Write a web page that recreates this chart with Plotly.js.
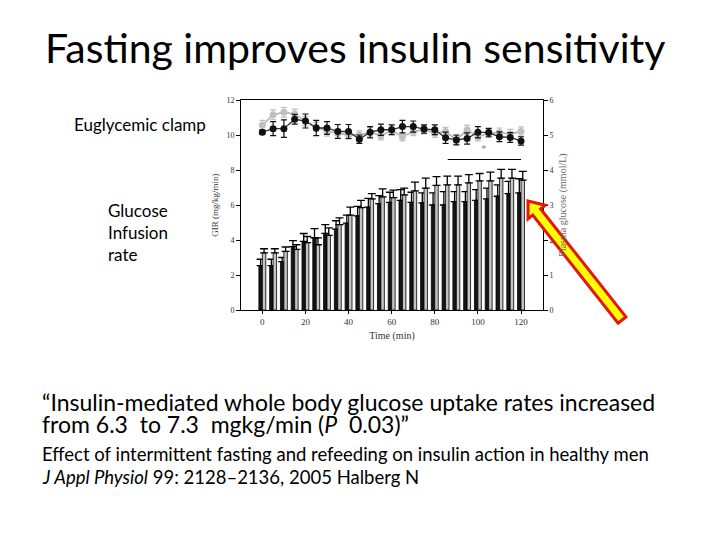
<!DOCTYPE html>
<html>
<head>
<meta charset="utf-8">
<script src="https://cdn.plot.ly/plotly-3.0.1.min.js"></script>
<style>html,body{margin:0;padding:0;background:#fff;}#chart{width:720px;height:540px;}</style>
</head>
<body>
<div id="chart"></div>
<script>
// ---- data ----
const times = [0,5,10,15,20,25,30,35,40,45,50,55,60,65,70,75,80,85,90,95,100,105,110,115,120];
const girBlack = [2.54,2.54,2.77,3.62,3.92,4.13,4.38,4.62,4.96,5.38,5.88,6.08,6.15,6.27,6.15,6.12,6.0,6.0,6.19,6.19,6.27,6.35,6.5,6.65,6.69];
const girBlackErr = [0.36,0.36,0.23,0.34,0.45,0.52,0.5,0.48,0.46,0.54,0.5,0.46,0.58,0.61,0.58,0.57,0.69,0.77,0.58,0.58,0.61,0.61,0.65,0.7,0.81];
const girGrey = [3.27,3.27,3.35,3.46,3.85,3.73,4.27,4.88,5.42,5.85,6.35,6.46,6.42,6.58,6.81,6.96,7.12,7.15,7.15,7.27,7.38,7.38,7.54,7.54,7.42];
const girGreyErr = [0.23,0.23,0.25,0.27,0.35,0.39,0.42,0.39,0.46,0.42,0.3,0.46,0.43,0.38,0.5,0.58,0.5,0.5,0.5,0.46,0.42,0.5,0.5,0.5,0.5];
const gluBlack = [5.08,5.18,5.18,5.45,5.4,5.2,5.2,5.1,5.1,4.88,5.08,5.15,5.15,5.24,5.24,5.17,5.15,4.92,4.86,4.9,5.08,5.07,4.95,4.93,4.83];
const gluBlackErr = [0.06,0.2,0.25,0.14,0.2,0.22,0.18,0.2,0.2,0.12,0.16,0.16,0.14,0.18,0.16,0.12,0.14,0.16,0.14,0.16,0.16,0.12,0.14,0.14,0.12];
const gluGrey = [5.28,5.58,5.65,5.6,5.4,5.23,5.1,5.05,5.0,5.0,5.08,4.98,5.13,4.95,5.1,5.15,5.05,5.1,4.86,5.15,4.95,5.05,5.07,5.03,5.1];
const gluGreyErr = [0.14,0.14,0.14,0.14,0.13,0.13,0.13,0.12,0.12,0.12,0.13,0.12,0.12,0.12,0.12,0.12,0.12,0.12,0.12,0.13,0.12,0.12,0.13,0.13,0.13];
const xTicks = [0,20,40,60,80,100,120];
const yTicks = [0,2,4,6,8,10,12];
const y2Ticks = [0,1,2,3,4,5,6];
const sigStart = 86, sigEnd = 120, sigLevel = 4.3, starT = 103, starY = 4.62;

// ---- layout helpers (pixel -> paper) ----
const PL=241, PR=543, PT=100, PB=310;
const W=PR-PL, H=PB-PT;
const fx = x => (x-PL)/W;
const fy = y => (PB-y)/H;

const zeros = times.map(()=>0);
const serif = 'Liberation Serif, Times New Roman, serif';
const sans = 'Lato, Carlito, Calibri, sans-serif';

const traces = [
  {type:'bar', x:times, y:girBlack, name:'GIR black', marker:{color:'#151515', line:{color:'#000', width:0.8}},
   error_y:{type:'data', array:girBlackErr, arrayminus:zeros, symmetric:false, color:'#000', thickness:1.3, width:4}},
  {type:'bar', x:times, y:girGrey, name:'GIR grey', marker:{color:'#c4c4c4', line:{color:'#000', width:0.8}},
   error_y:{type:'data', array:girGreyErr, arrayminus:zeros, symmetric:false, color:'#000', thickness:1.3, width:4}},
  {type:'scatter', mode:'lines+markers', x:times, y:gluGrey, yaxis:'y2', name:'Glucose grey',
   line:{color:'#b8b8b8', width:1.8}, marker:{color:'#c0c0c0', size:7, symbol:'circle'},
   error_y:{type:'data', array:gluGreyErr, color:'#c0c0c0', thickness:1.2, width:3}},
  {type:'scatter', mode:'lines+markers', x:times, y:gluBlack, yaxis:'y2', name:'Glucose black',
   line:{color:'#333', width:1.3}, marker:{color:'#111', size:7, symbol:'circle'},
   error_y:{type:'data', array:gluBlackErr, color:'#111', thickness:1.2, width:3}}
];

// arrow polygon
function arrowPath(){
  const T=[528,201], S=[622,320];
  const dx=T[0]-S[0], dy=T[1]-S[1], L=Math.hypot(dx,dy);
  const u=[dx/L, dy/L], n=[-u[1], u[0]];
  const hl=14, hw=11, sw=5;
  const B=[T[0]-u[0]*hl, T[1]-u[1]*hl];
  const pts=[T,
    [B[0]+n[0]*hw, B[1]+n[1]*hw],
    [B[0]+n[0]*sw, B[1]+n[1]*sw],
    [S[0]+n[0]*sw, S[1]+n[1]*sw],
    [S[0]-n[0]*sw, S[1]-n[1]*sw],
    [B[0]-n[0]*sw, B[1]-n[1]*sw],
    [B[0]-n[0]*hw, B[1]-n[1]*hw]];
  return 'M'+pts.map(p=>fx(p[0]).toFixed(4)+','+fy(p[1]).toFixed(4)).join(' L')+' Z';
}

const layout = {
  width:720, height:540,
  margin:{l:PL, r:720-PR, t:PT, b:540-PB, pad:0},
  paper_bgcolor:'#fff', plot_bgcolor:'#fff',
  showlegend:false,
  barmode:'group', bargap:0.36, bargroupgap:0,
  font:{family:serif, size:9, color:'#333'},
  xaxis:{range:[-9.9,130.2], tickvals:xTicks, ticks:'outside', ticklen:3, tickcolor:'#000',
    showline:true, linecolor:'#000', linewidth:1, mirror:true, showgrid:false, zeroline:false,
    tickfont:{family:serif, size:9, color:'#333'},
    title:{text:'Time (min)', font:{family:serif, size:10, color:'#333'}, standoff:6}},
  yaxis:{range:[0,12], tickvals:yTicks, ticks:'outside', ticklen:4, tickcolor:'#000',
    showline:true, linecolor:'#000', linewidth:1, showgrid:false, zeroline:false,
    tickfont:{family:serif, size:8, color:'#333'},
    title:{text:'GIR (mg/kg/min)', font:{family:serif, size:9, color:'#333'}, standoff:6}},
  yaxis2:{range:[0,6], tickvals:y2Ticks, overlaying:'y', side:'right', ticks:'outside', ticklen:4, tickcolor:'#000',
    showline:true, linecolor:'#000', linewidth:1, showgrid:false, zeroline:false,
    tickfont:{family:serif, size:8, color:'#333'},
    title:{text:'Plasma glucose (mmol/L)', font:{family:serif, size:10, color:'#666'}, standoff:6}},
  shapes:[
    {type:'line', xref:'x', yref:'y2', x0:sigStart, x1:sigEnd, y0:sigLevel, y1:sigLevel, line:{color:'#000', width:1}},
    {type:'path', xref:'paper', yref:'paper', path:arrowPath(), fillcolor:'#ffff00', line:{color:'#e8140c', width:3}, layer:'above'}
  ],
  annotations:[
    {xref:'x', yref:'y2', x:starT, y:starY, text:'*', showarrow:false, font:{family:serif, size:11, color:'#888'}},
    {xref:'paper', yref:'paper', x:fx(355), y:fy(47), xanchor:'center', yanchor:'middle', showarrow:false,
     text:'Fasting improves insulin sensitivity', font:{family:sans, size:41, color:'#000'}},
    {xref:'paper', yref:'paper', x:fx(72), y:fy(124), xanchor:'left', yanchor:'middle', showarrow:false,
     text:'Euglycemic clamp', font:{family:sans, size:17, color:'#000'}},
    {xref:'paper', yref:'paper', x:fx(106), y:fy(210), xanchor:'left', yanchor:'middle', showarrow:false,
     text:'Glucose', font:{family:sans, size:17, color:'#000'}},
    {xref:'paper', yref:'paper', x:fx(106), y:fy(232), xanchor:'left', yanchor:'middle', showarrow:false,
     text:'Infusion', font:{family:sans, size:17, color:'#000'}},
    {xref:'paper', yref:'paper', x:fx(106), y:fy(254), xanchor:'left', yanchor:'middle', showarrow:false,
     text:'rate', font:{family:sans, size:17, color:'#000'}},
    {xref:'paper', yref:'paper', x:fx(40), y:fy(402), xanchor:'left', yanchor:'middle', showarrow:false,
     text:'\u201cInsulin-mediated whole body glucose uptake rates increased', font:{family:sans, size:23, color:'#000'}},
    {xref:'paper', yref:'paper', x:fx(40), y:fy(424), xanchor:'left', yanchor:'middle', showarrow:false,
     text:'from 6.3 \u00a0to 7.3 \u00a0mgkg/min (<i>P</i> \u00a00.03)\u201d', font:{family:sans, size:23, color:'#000'}},
    {xref:'paper', yref:'paper', x:fx(40), y:fy(454), xanchor:'left', yanchor:'middle', showarrow:false,
     text:'Effect of intermittent fasting and refeeding on insulin action in healthy men', font:{family:sans, size:18.5, color:'#000'}},
    {xref:'paper', yref:'paper', x:fx(40), y:fy(477), xanchor:'left', yanchor:'middle', showarrow:false,
     text:'<i>J Appl Physiol</i> 99: 2128\u20132136, 2005 Halberg N', font:{family:sans, size:18.5, color:'#000'}}
  ]
};

Plotly.newPlot('chart', traces, layout, {displayModeBar:false, staticPlot:true});
</script>
</body>
</html>
